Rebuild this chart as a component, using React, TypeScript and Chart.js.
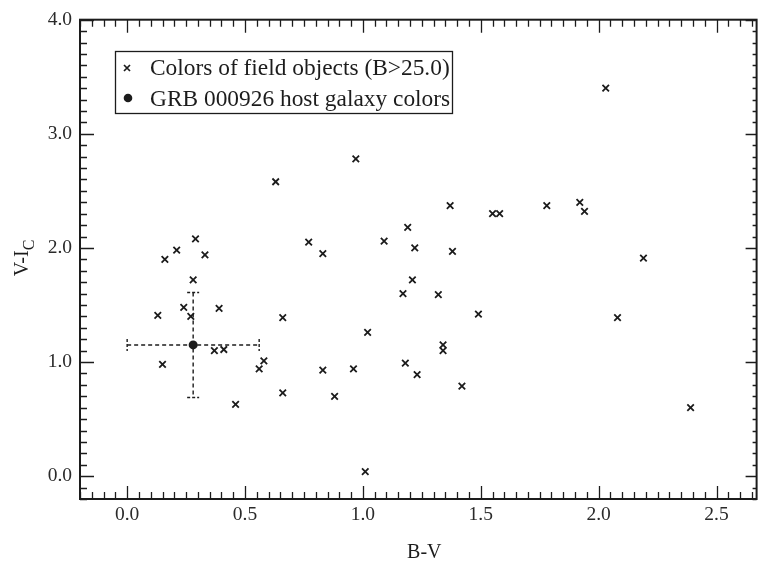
import React, { useEffect, useRef } from "react";
import { Chart, registerables } from "chart.js";

Chart.register(...registerables);

// ---- data ----
const fieldBV = [
  0.13, 0.24, 0.27, 0.39, 0.66, 0.15, 0.37, 0.41, 0.58, 0.56, 0.66, 0.46,
  0.63, 0.29, 0.21, 0.16, 0.33, 0.28, 0.77, 0.83, 0.97, 1.09, 1.19, 1.22,
  1.37, 1.38, 1.55, 1.58, 1.21, 1.17, 1.32, 1.49, 1.02, 1.34, 1.34, 0.83,
  0.96, 1.18, 1.23, 1.42, 0.88, 1.01, 2.03, 1.78, 1.92, 1.94, 2.19, 2.08,
  2.39,
];
const fieldVI = [
  1.41, 1.48, 1.4, 1.47, 1.39, 0.98, 1.1, 1.11, 1.01, 0.94, 0.73, 0.63,
  2.58, 2.08, 1.98, 1.9, 1.94, 1.72, 2.05, 1.95, 2.78, 2.06, 2.18, 2.0,
  2.37, 1.97, 2.3, 2.3, 1.72, 1.6, 1.59, 1.42, 1.26, 1.15, 1.1, 0.93,
  0.94, 0.99, 0.89, 0.79, 0.7, 0.04, 3.4, 2.37, 2.4, 2.32, 1.91, 1.39,
  0.6,
];
const hostBV = [0.28];
const hostVI = [1.15];
const hostErrBV = [0.28];
const hostErrVI = [0.46];

const xTicks = [0, 0.5, 1.0, 1.5, 2.0, 2.5];
const yTicks = [0, 1.0, 2.0, 3.0, 4.0];
const xMin = -0.2;
const xMax = 2.67;
const yMin = -0.2;
const yMax = 4.0;
const xMinorStep = 0.05;
const yMinorStep = 0.1;
const xMajorStep = 0.5;
const yMajorStep = 1.0;

const legendLabels = [
  "Colors of field objects (B>25.0)",
  "GRB 000926 host galaxy colors",
];
const xTitle = "B-V";
const yTitle = "V-I";
const yTitleSub = "C";

// ---- style ----
const INK = "#1c1c1c";
const SERIF = "'Liberation Serif', 'Times New Roman', serif";

function isMultiple(v: number, step: number) {
  const r = v / step;
  return Math.abs(r - Math.round(r)) < 1e-6;
}

function drawCross(ctx: CanvasRenderingContext2D, cx: number, cy: number, r: number) {
  ctx.beginPath();
  ctx.moveTo(cx - r, cy - r);
  ctx.lineTo(cx + r, cy + r);
  ctx.moveTo(cx - r, cy + r);
  ctx.lineTo(cx + r, cy - r);
  ctx.stroke();
}

const decorPlugin = {
  id: "decor",
  beforeDatasetsDraw(chart: any) {
    const { ctx } = chart;
    const x = chart.scales.x;
    const y = chart.scales.y;
    ctx.save();
    ctx.strokeStyle = INK;
    ctx.lineWidth = 1.4;
    ctx.setLineDash([4, 3]);
    for (let i = 0; i < hostBV.length; i++) {
      const cx = x.getPixelForValue(hostBV[i]);
      const cy = y.getPixelForValue(hostVI[i]);
      const xl = x.getPixelForValue(hostBV[i] - hostErrBV[i]);
      const xr = x.getPixelForValue(hostBV[i] + hostErrBV[i]);
      const yt = y.getPixelForValue(hostVI[i] + hostErrVI[i]);
      const yb = y.getPixelForValue(hostVI[i] - hostErrVI[i]);
      const cap = 6;
      ctx.beginPath();
      ctx.moveTo(xl, cy);
      ctx.lineTo(xr, cy);
      ctx.moveTo(cx, yt);
      ctx.lineTo(cx, yb);
      ctx.stroke();
      ctx.setLineDash([3, 2]);
      ctx.beginPath();
      ctx.moveTo(xl, cy - cap);
      ctx.lineTo(xl, cy + cap);
      ctx.moveTo(xr, cy - cap);
      ctx.lineTo(xr, cy + cap);
      ctx.moveTo(cx - cap, yt);
      ctx.lineTo(cx + cap, yt);
      ctx.moveTo(cx - cap, yb);
      ctx.lineTo(cx + cap, yb);
      ctx.stroke();
      ctx.setLineDash([4, 3]);
    }
    ctx.restore();
  },
  afterDraw(chart: any) {
    const { ctx, chartArea } = chart;
    const x = chart.scales.x;
    const y = chart.scales.y;
    const { left, right, top, bottom } = chartArea;
    ctx.save();
    ctx.strokeStyle = INK;
    ctx.fillStyle = INK;

    // frame
    ctx.lineWidth = 2;
    ctx.strokeRect(left, top, right - left, bottom - top);

    // ticks
    ctx.lineWidth = 1.3;
    ctx.beginPath();
    const nx = Math.round((xMax - xMin) / xMinorStep);
    for (let k = 0; k <= nx; k++) {
      const v = xMin + k * xMinorStep;
      const px = Math.round(x.getPixelForValue(v)) + 0.5;
      const major = isMultiple(v, xMajorStep);
      const len = major ? 13 : 7;
      ctx.moveTo(px, bottom);
      ctx.lineTo(px, bottom - len);
      ctx.moveTo(px, top);
      ctx.lineTo(px, top + len);
    }
    const ny = Math.round((yMax - yMin) / yMinorStep);
    for (let k = 0; k <= ny; k++) {
      const v = yMin + k * yMinorStep;
      const py = Math.round(y.getPixelForValue(v)) + 0.5;
      const major = isMultiple(v, yMajorStep);
      ctx.moveTo(left, py);
      ctx.lineTo(left + (major ? 14 : 7), py);
      ctx.moveTo(right, py);
      ctx.lineTo(right - (major ? 11 : 4), py);
    }
    ctx.stroke();

    // axis titles
    ctx.font = `20px ${SERIF}`;
    ctx.textAlign = "center";
    ctx.textBaseline = "middle";
    ctx.fillText(xTitle, (left + right) / 2 + 6, 553);

    ctx.save();
    ctx.translate(22, 258);
    ctx.rotate(-Math.PI / 2);
    ctx.font = `20px ${SERIF}`;
    const w1 = ctx.measureText(yTitle).width;
    ctx.font = `16px ${SERIF}`;
    const w2 = ctx.measureText(yTitleSub).width;
    const start = -(w1 + w2) / 2;
    ctx.textAlign = "left";
    ctx.textBaseline = "alphabetic";
    ctx.font = `20px ${SERIF}`;
    ctx.fillText(yTitle, start, 6);
    ctx.font = `16px ${SERIF}`;
    ctx.fillText(yTitleSub, start + w1, 12);
    ctx.restore();

    // legend
    const lx = 115;
    const ly = 51;
    const lw = 337;
    const lh = 62;
    ctx.fillStyle = "#ffffff";
    ctx.fillRect(lx, ly, lw, lh);
    ctx.lineWidth = 1.3;
    ctx.strokeRect(lx + 0.5, ly + 0.5, lw, lh);
    ctx.fillStyle = INK;
    ctx.lineWidth = 1.7;
    drawCross(ctx, 127, 68, 3);
    ctx.beginPath();
    ctx.arc(128, 98, 4.3, 0, Math.PI * 2);
    ctx.fill();
    ctx.font = `23.4px ${SERIF}`;
    ctx.textAlign = "left";
    ctx.textBaseline = "alphabetic";
    ctx.fillText(legendLabels[0], 150, 75);
    ctx.fillText(legendLabels[1], 150, 106);

    ctx.restore();
  },
};

export default function App() {
  const canvasRef = useRef<HTMLCanvasElement | null>(null);

  useEffect(() => {
    const canvas = canvasRef.current;
    if (!canvas) return;
    const chart = new Chart(canvas, {
      type: "scatter",
      data: {
        datasets: [
          {
            label: legendLabels[0],
            data: fieldBV.map((v, i) => ({ x: v, y: fieldVI[i] })),
            pointStyle: "crossRot",
            pointRadius: 4.6,
            pointHoverRadius: 4.6,
            borderWidth: 1.8,
            borderColor: INK,
            backgroundColor: INK,
          },
          {
            label: legendLabels[1],
            data: hostBV.map((v, i) => ({ x: v, y: hostVI[i] })),
            pointStyle: "circle",
            pointRadius: 4.5,
            pointHoverRadius: 4.5,
            borderWidth: 0,
            borderColor: INK,
            backgroundColor: INK,
          },
        ],
      },
      options: {
        animation: false,
        responsive: false,
        devicePixelRatio: 1,
        events: [],
        layout: { padding: { top: 17, right: 4, left: 0, bottom: 0 } },
        plugins: {
          legend: { display: false },
          tooltip: { enabled: false },
        },
        scales: {
          x: {
            type: "linear",
            min: xMin,
            max: xMax,
            afterBuildTicks: (scale: any) => {
              scale.ticks = xTicks.map((v) => ({ value: v }));
            },
            afterFit: (scale: any) => {
              scale.height = 68;
            },
            ticks: {
              autoSkip: false,
              maxRotation: 0,
              padding: 4,
              color: "#2a2a2a",
              font: { family: SERIF, size: 19.5 },
              callback: (v: any) => Number(v).toFixed(1),
            },
            grid: { display: false, drawTicks: false, tickLength: 0 },
            border: { display: false },
          },
          y: {
            type: "linear",
            min: yMin,
            max: yMax,
            afterBuildTicks: (scale: any) => {
              scale.ticks = yTicks.map((v) => ({ value: v }));
            },
            afterFit: (scale: any) => {
              scale.width = 80;
            },
            ticks: {
              autoSkip: false,
              padding: 8,
              color: "#2a2a2a",
              font: { family: SERIF, size: 19.5 },
              callback: (v: any) => Number(v).toFixed(1),
            },
            grid: { display: false, drawTicks: false, tickLength: 0 },
            border: { display: false },
          },
        },
      },
      plugins: [decorPlugin],
    } as any);
    return () => chart.destroy();
  }, []);

  return (
    <div style={{ position: "fixed", left: 0, top: 0, width: 763, height: 567, background: "#fff" }}>
      <canvas ref={canvasRef} width={763} height={567} style={{ display: "block" }} />
    </div>
  );
}
